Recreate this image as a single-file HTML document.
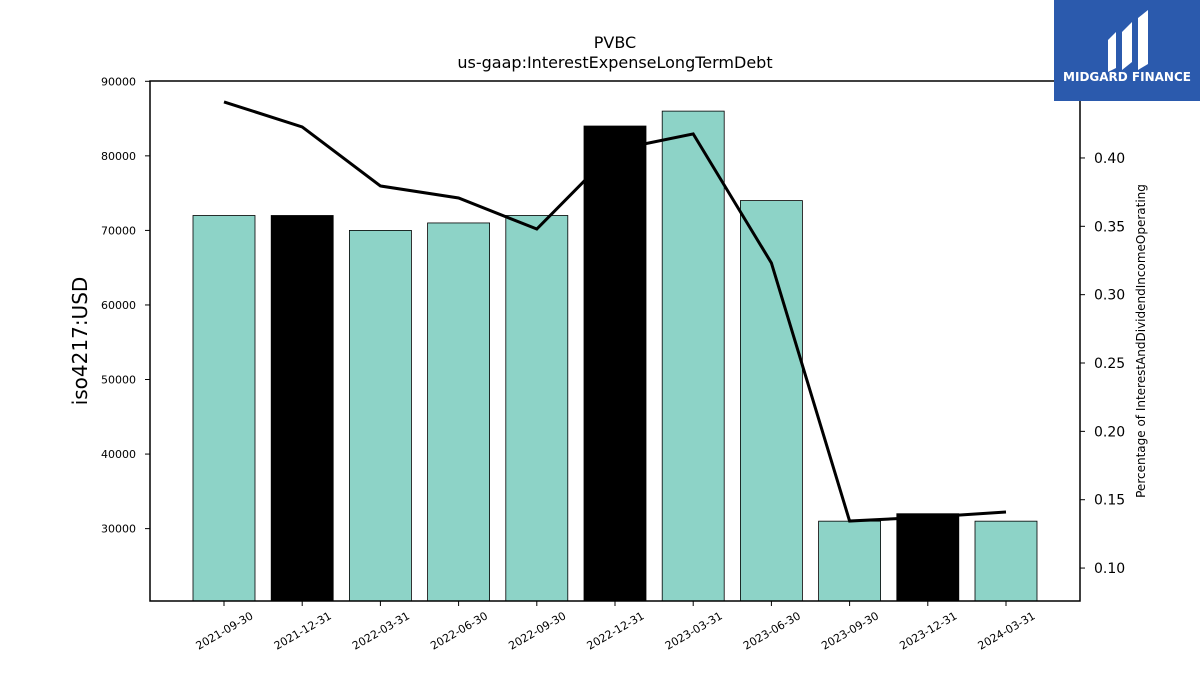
<!DOCTYPE html>
<html><head><meta charset="utf-8"><style>
body{margin:0;background:#fff;font-family:"DejaVu Sans","Liberation Sans",sans-serif}
svg text{font-family:"DejaVu Sans","Liberation Sans",sans-serif}
</style></head><body>
<svg id="c" width="1200" height="675" xmlns="http://www.w3.org/2000/svg">
<rect x="0" y="0" width="1200" height="675" fill="#fff"/>
<text x="615" y="48" text-anchor="middle" font-size="16">PVBC</text>
<text x="615" y="68" text-anchor="middle" font-size="16">us-gaap:InterestExpenseLongTermDebt</text>
<g id="bars"></g><g id="line"></g><g id="axes"></g>
<rect x="150" y="81" width="930" height="520" fill="none" stroke="#000" stroke-width="1.5"/>
<text transform="translate(87,341) rotate(-90)" text-anchor="middle" font-size="20">iso4217:USD</text>
<text transform="translate(1145,341) rotate(-90)" text-anchor="middle" font-size="12">Percentage of InterestAndDividendIncomeOperating</text>
<g>
<rect x="1054" y="0" width="146" height="101" fill="#2b5aad"/>
<path d="M1108 40 l8 -8 v36 l-8 4 z M1122 32 l10 -10 v40 l-10 8 z M1138 18 l10 -8 v54 l-10 6 z" fill="#fff"/>
<text x="1127" y="81" text-anchor="middle" font-size="12" font-weight="bold" fill="#fff">MIDGARD FINANCE</text>
</g>
</svg>
<script>
const categories=["2021-09-30","2021-12-31","2022-03-31","2022-06-30","2022-09-30","2022-12-31","2023-03-31","2023-06-30","2023-09-30","2023-12-31","2024-03-31"];
const barValues=[72000,72000,70000,71000,72000,84000,86000,74000,31000,32000,31000];
const pctValues=[0.441,0.4227,0.3795,0.3707,0.348,0.4059,0.4176,0.3232,0.1344,0.1373,0.141];
const leftTicks=[30000,40000,50000,60000,70000,80000,90000];
const rightTicks=[0.10,0.15,0.20,0.25,0.30,0.35,0.40];
const NS="http://www.w3.org/2000/svg";
const yL=v=>601-(v-20292)/(90040-20292)*520;
const yR=v=>601-(v-0.0759)/(0.4563-0.0759)*520;
const xC=i=>224+i*78.2;
function mk(t,a,p){const e=document.createElementNS(NS,t);for(const k in a)e.setAttribute(k,a[k]);p.appendChild(e);return e;}
const bars=document.getElementById('bars'),line=document.getElementById('line'),axes=document.getElementById('axes');
categories.forEach((c,i)=>{
 const dark=c.endsWith('12-31');
 const r=mk('rect',{x:xC(i)-31,y:yL(barValues[i]),width:62,height:601-yL(barValues[i]),fill:dark?'#000':'#8dd3c7',stroke:'#000','stroke-width':0.8},bars);
 
 
 mk('line',{x1:xC(i),x2:xC(i),y1:601,y2:606,stroke:'#000'},axes);
 const t=mk('text',{transform:`translate(${xC(i)+30},${618}) rotate(-30)`,'text-anchor':'end','font-size':11},axes);
 t.textContent=c;
 
 
});
const pl=mk('polyline',{points:pctValues.map((v,i)=>xC(i)+','+yR(v)).join(' '),fill:'none',stroke:'#000','stroke-width':3},line);


leftTicks.forEach(v=>{
 mk('line',{x1:145,x2:150,y1:yL(v),y2:yL(v),stroke:'#000'},axes);
 const t=mk('text',{x:136,y:yL(v)+4,'text-anchor':'end','font-size':11},axes);t.textContent=v;
 
 
});
rightTicks.forEach(v=>{
 mk('line',{x1:1080,x2:1085,y1:yR(v),y2:yR(v),stroke:'#000'},axes);
 const t=mk('text',{x:1094,y:yR(v)+5,'font-size':14},axes);t.textContent=v.toFixed(2);
 
 
});
</script>
</body></html>
